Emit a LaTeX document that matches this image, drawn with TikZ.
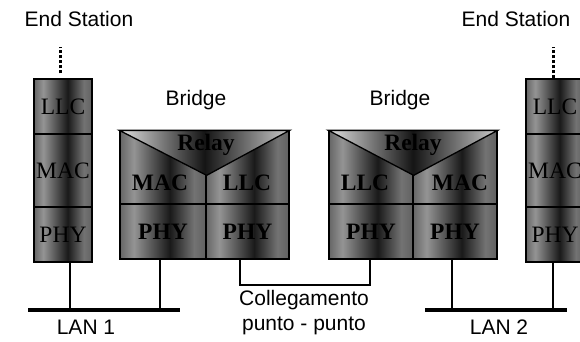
\documentclass[tikz,border=0pt]{standalone}
\usepackage{fontspec}
\setmainfont{Liberation Serif}
\setsansfont{Liberation Sans}

\pgfdeclarehorizontalshading{metal}{100bp}{color(0bp)=(black!60); color(25bp)=(black!60); color(33bp)=(black!42); color(54bp)=(black!90); color(68bp)=(black!55); color(75bp)=(black!62); color(100bp)=(black!62)}
\pgfdeclarehorizontalshading{relayshade}{100bp}{color(0bp)=(black!12); color(25bp)=(black!12); color(50bp)=(black!92); color(75bp)=(black!20); color(100bp)=(black!20)}

\begin{document}
\begin{tikzpicture}[x=1pt,y=-1pt,
  cell/.style={draw, line width=1.3pt, shade, shading=metal, minimum width=58pt, inner sep=0pt, font=\fontsize{23.5}{26}\selectfont},
  bold/.style={font=\fontsize{23.5}{26}\selectfont\bfseries, inner sep=0pt},
  tag/.style={font=\sffamily\fontsize{21}{25}\selectfont, align=center},
  wire/.style={line width=1.2pt},
  lan/.style={line width=3.5pt},
  dots/.style={line width=3pt, dash pattern=on 3pt off 2pt}]
  \useasboundingbox (0,0) rectangle (580,342);

  % End station sinistra
  \node[cell, minimum height=55pt] (SL1) at (63,106.5) {LLC};
  \node[cell, minimum height=73pt] (SL2) at (63,170.5) {MAC};
  \node[cell, minimum height=55pt] (SL3) at (63,234.5) {PHY};
  \draw[dots] ([xshift=-3pt,yshift=5pt]SL1.north) -- ++(0,-26);

  % Bridge 1
  \node[cell, minimum width=86pt, minimum height=73pt] (BA1) at (163,167.5) {};
  \node[cell, minimum width=83pt, minimum height=73pt] (BA2) at (247.5,167.5) {};
  \node[cell, bold, minimum width=86pt, minimum height=55pt] (BA3) at (163,231.5) {PHY};
  \node[cell, bold, minimum width=83pt, minimum height=55pt] (BA4) at (247.5,231.5) {PHY};
  \draw[line width=1.3pt, shade, shading=relayshade] (BA1.north west) -- (BA2.north east) -- ([yshift=-45pt]BA1.north east) -- cycle;
  \node[bold] at (206,145) {Relay};
  \node[bold] at (160,183) {MAC};
  \node[bold] at (247,183) {LLC};

  % Bridge 2
  \node[cell, minimum width=84pt, minimum height=73pt] (BB1) at (371,167.5) {};
  \node[cell, minimum width=84pt, minimum height=73pt] (BB2) at (455,167.5) {};
  \node[cell, bold, minimum width=84pt, minimum height=55pt] (BB3) at (371,231.5) {PHY};
  \node[cell, bold, minimum width=84pt, minimum height=55pt] (BB4) at (455,231.5) {PHY};
  \draw[line width=1.3pt, shade, shading=relayshade] (BB1.north west) -- (BB2.north east) -- ([yshift=-45pt]BB1.north east) -- cycle;
  \node[bold] at (413,145) {Relay};
  \node[bold] at (365,183) {LLC};
  \node[bold] at (460,183) {MAC};

  % End station destra
  \node[cell, minimum height=55pt] (SR1) at (555,106.5) {LLC};
  \node[cell, minimum height=73pt] (SR2) at (555,170.5) {MAC};
  \node[cell, minimum height=55pt] (SR3) at (555,234.5) {PHY};
  \draw[dots] ([xshift=-2pt]SR1.north) -- ++(0,-31);

  % LAN
  \coordinate (LA1) at (28,310);
  \coordinate (LA2) at (180,310);
  \coordinate (LB1) at (425,310);
  \coordinate (LB2) at (567,310);
  \draw[lan] (LA1) -- (LA2);
  \draw[lan] (LB1) -- (LB2);

  \path ([xshift=7pt]SL3.south) coordinate (dSL)
        ([xshift=-3pt]BA3.south) coordinate (dBA)
        ([xshift=-3pt]BB4.south) coordinate (dBB)
        ([xshift=-2pt]SR3.south) coordinate (dSR);
  \draw[wire] (dSL) -- (dSL |- LA1);
  \draw[wire] (dBA) -- (dBA |- LA1);
  \draw[wire] (dBB) -- (dBB |- LB1);
  \draw[wire] (dSR) -- (dSR |- LB1);

  % punto - punto
  \coordinate (link) at (300,285);
  \draw[wire] ([xshift=-7.5pt]BA4.south) |- (link) -| ([xshift=-1pt]BB3.south);

  \node[tag] at (79,19) {End Station};
  \node[tag] at (516,19) {End Station};
  \node[tag] at (196,100) {Bridge};
  \node[tag] at (400,100) {Bridge};
  \node[tag] at (86,327) {LAN 1};
  \node[tag] at (499,327) {LAN 2};
  \node[tag] at (304,313) {Collegamento\\punto - punto};
\end{tikzpicture}
\end{document}
